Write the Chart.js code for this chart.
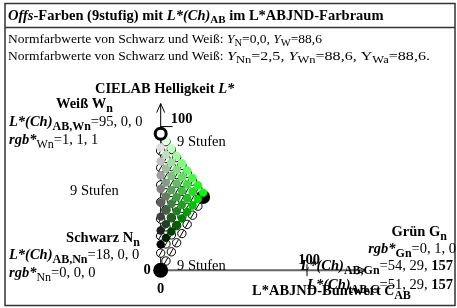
<!DOCTYPE html>
<html>
<head>
<meta charset="utf-8">
<script src="https://cdn.jsdelivr.net/npm/chart.js@4.4.0/dist/chart.umd.min.js"></script>
<style>
  html, body { margin: 0; padding: 0; background: #fff; }
</style>
</head>
<body>
<canvas id="chart" width="457" height="308"></canvas>
<script>
const ctx = document.getElementById("chart");

// chroma C*ab of the 9 columns (0 .. green)
const chromaSteps = [0, 3.6, 7.3, 10.9, 14.5, 18.1, 21.8, 25.4, 29];

// L* of the filled L*ABJND colours, one list per column
const lightJnd = [
  [18, 27.6, 37.3, 46.9, 56.5, 66.1, 75.8, 85.4, 95],
  [22.5, 32.1, 41.8, 51.4, 61, 70.6, 80.3, 89.9],
  [27, 36.6, 46.3, 55.9, 65.5, 75.1, 84.8],
  [31.5, 41.1, 50.8, 60.4, 70, 79.6],
  [36, 45.6, 55.3, 64.9, 74.5],
  [40.5, 50.1, 59.8, 69.4],
  [45, 54.6, 64.3],
  [49.5, 59.1],
  [54],
];

// L* of the open CIELAB circles, one list per column
const lightLab = [
  [0, 11.9, 23.8, 35.6, 47.5, 59.4, 71.3, 83.1, 95],
  [6.4, 18.3, 30.2, 42, 53.9, 65.8, 77.7, 89.5],
  [12.8, 24.6, 36.5, 48.4, 60.3, 72.1, 84],
  [19.1, 31, 42.9, 54.8, 66.6, 78.5],
  [25.5, 37.4, 49.3, 61.1, 73],
  [31.9, 43.8, 55.6, 67.5],
  [38.3, 50.1, 62],
  [44.6, 56.5],
  [51],
];

const whiteWn = [0, 95];
const blackOrigin = [0, 0];
const greenG = [29, 51];
const axisTicks = [0, 100];

// build points
const jndPoints = [];
const jndColors = [];
lightJnd.forEach((col, k) => {
  col.forEach((L, j) => {
    jndPoints.push({ x: chromaSteps[k], y: L });
    const a = j / 8, b = k / 8;
    const w = Math.round(255 * a), g = Math.round(255 * Math.min(1, a + b));
    jndColors.push(`rgb(${w}, ${g}, ${w})`);
  });
});
const labPoints = [];
lightLab.forEach((col, k) => {
  col.forEach((L) => labPoints.push({ x: chromaSteps[k], y: L }));
});

const SERIF = "'Liberation Serif', 'DejaVu Serif', serif";
const styles = {
  r: { font: `14.5px ${SERIF}`, dy: 0 },
  b: { font: `bold 14.5px ${SERIF}`, dy: 0 },
  i: { font: `italic 14.5px ${SERIF}`, dy: 0 },
  bi: { font: `italic bold 14.5px ${SERIF}`, dy: 0 },
  sb: { font: `bold 12px ${SERIF}`, dy: 4.5 },
  sr: { font: `12px ${SERIF}`, dy: 4.5 },
  nr: { font: `13.5px ${SERIF}`, dy: 0 },
  ni: { font: `italic 13.5px ${SERIF}`, dy: 0 },
  ns: { font: `10.5px ${SERIF}`, dy: 4 },
  T: { font: `bold 14.5px ${SERIF}`, dy: 0 },
  Ti: { font: `italic bold 14.5px ${SERIF}`, dy: 0 },
  Ts: { font: `bold 11px ${SERIF}`, dy: 4 },
};

// draw a line of mixed-font text; align "left" | "right" | "center"
// stretch: optional target width for the whole line; returns right end x
const rich = (c, x, y, parts, align = "left", stretch = 0) => {
  c.textBaseline = "middle";
  c.textAlign = "left";
  let total = 0;
  parts.forEach(([t, s]) => {
    c.font = styles[s].font;
    total += c.measureText(t).width;
  });
  const k = stretch ? stretch / total : 1;
  const w = total * k;
  const cx = align === "right" ? x - w : align === "center" ? x - w / 2 : x;
  c.save();
  c.translate(cx, 0);
  c.scale(k, 1);
  let px = 0;
  parts.forEach(([t, s]) => {
    c.font = styles[s].font;
    c.fillText(t, px, y + styles[s].dy);
    px += c.measureText(t).width;
  });
  c.restore();
  return cx + w;
};

const decor = {
  id: "decor",
  beforeDatasetsDraw(chart) {
    const c = chart.ctx;
    const xs = chart.scales.x, ys = chart.scales.y;
    const x0 = xs.getPixelForValue(axisTicks[0]);
    const y0 = ys.getPixelForValue(axisTicks[0]);
    const yTop = ys.getPixelForValue(116);
    const yT = ys.getPixelForValue(axisTicks[1]);
    const xEnd = xs.getPixelForValue(140);
    const xT = xs.getPixelForValue(axisTicks[1]);
    c.save();
    // vertical axis
    c.strokeStyle = "#000";
    c.lineWidth = 1;
    c.beginPath();
    c.moveTo(x0, y0);
    c.lineTo(x0, yTop);
    c.moveTo(x0 - 4, yTop + 9);
    c.lineTo(x0, yTop);
    c.lineTo(x0 + 4, yTop + 9);
    c.moveTo(x0, yT);
    c.lineTo(x0 + 12, yT);
    c.stroke();
    // horizontal axis
    c.strokeStyle = "#666";
    c.lineWidth = 2;
    c.beginPath();
    c.moveTo(x0, y0);
    c.lineTo(xEnd, y0);
    c.stroke();
    c.lineWidth = 1;
    c.strokeStyle = "#000";
    c.beginPath();
    c.moveTo(xEnd - 9, y0 - 4);
    c.lineTo(xEnd, y0);
    c.lineTo(xEnd - 9, y0 + 4);
    c.moveTo(xT, y0 - 6);
    c.lineTo(xT, y0 + 6);
    c.stroke();
    c.restore();
  },
  afterDraw(chart) {
    const c = chart.ctx;
    const xs = chart.scales.x, ys = chart.scales.y;
    const x0 = xs.getPixelForValue(0);
    const y0 = ys.getPixelForValue(0);
    c.save();
    // frame
    c.strokeStyle = "#333";
    c.lineWidth = 1.5;
    c.strokeRect(5, 3.5, 450, 302);
    c.beginPath();
    c.moveTo(5, 27.5);
    c.lineTo(455, 27.5);
    c.stroke();
    c.fillStyle = "#000";
    rich(c, 8, 16, [["Offs", "Ti"], ["-Farben (9stufig) mit ", "T"], ["L*(Ch)", "Ti"], ["AB", "Ts"], [" im L*ABJND-Farbraum", "T"]]);
    rich(c, 8, 39, [["Normfarbwerte von Schwarz und Weiß: ", "nr"], ["Y", "ni"], ["N", "ns"], ["=0,0, ", "nr"], ["Y", "ni"], ["W", "ns"], ["=88,6", "nr"]]);
    const headEnd = rich(c, 8, 56, [["Normfarbwerte von Schwarz und Weiß: ", "nr"]]);
    rich(c, headEnd, 56, [["Y", "ni"], ["Nn", "ns"], ["=2,5, ", "nr"], ["Y", "ni"], ["Wn", "ns"], ["=88,6, Y", "nr"], ["Wa", "ns"], ["=88,6.", "nr"]], "left", 430 - headEnd);

    rich(c, x0 + 4, 89, [["CIELAB Helligkeit ", "b"], ["L*", "bi"]], "center");
    rich(c, 113, 104, [["Weiß W", "b"], ["n", "sb"]], "right");
    rich(c, 9, 122, [["L*(Ch)", "bi"], ["AB,Wn", "sb"], ["=95, 0, 0", "r"]]);
    rich(c, 9, 140, [["rgb*", "bi"], ["Wn", "sr"], ["=1, 1, 1", "r"]]);
    rich(c, x0 + 10, ys.getPixelForValue(axisTicks[1]) - 7, [["100", "b"]]);
    rich(c, 177, 142, [["9 Stufen", "r"]]);
    rich(c, 70, 191, [["9 Stufen", "r"]]);
    rich(c, 177, 266, [["9 Stufen", "r"]]);

    rich(c, 140, 238, [["Schwarz N", "b"], ["n", "sb"]], "right");
    rich(c, 9, 255, [["L*(Ch)", "bi"], ["AB,Nn", "sb"], ["=18, 0, 0", "r"]]);
    rich(c, 9, 273, [["rgb*", "bi"], ["Nn", "sr"], ["=0, 0, 0", "r"]]);
    rich(c, x0 - 10, y0, [["0", "b"]], "right");
    rich(c, x0, y0 + 19, [["0", "b"]], "center");

    rich(c, 447, 232, [["Grün G", "b"], ["n", "sb"]], "right");
    rich(c, 456, 249, [["rgb*", "bi"], ["Gn", "sb"], ["=0, 1, 0", "r"]], "right");
    rich(c, xs.getPixelForValue(axisTicks[1]) + 2, y0 - 10, [["100", "b"]], "center");
    rich(c, 453, 266, [["L*(Ch)", "bi"], ["AB,Gn", "sb"], ["=54, 29, ", "r"], ["157", "b"]], "right");
    rich(c, 252, 291, [["L*ABJND-Buntwert ", "b"], ["C", "bi"], ["AB", "sb"]]);
    rich(c, 453, 285, [["L*(Ch)", "bi"], ["AB,G", "sb"], ["=51, 29, ", "r"], ["157", "b"]], "right");
    c.restore();
  },
};

new Chart(ctx, {
  type: "scatter",
  data: {
    datasets: [
      {
        label: "Weiß",
        data: [{ x: whiteWn[0], y: whiteWn[1] }],
        pointRadius: 5.5,
        backgroundColor: "#fff",
        borderColor: "#000",
        borderWidth: 3,
        order: 0,
      },
      {
        label: "Schwarz",
        data: [{ x: blackOrigin[0], y: blackOrigin[1] }],
        pointRadius: 7.5,
        backgroundColor: "#000",
        borderWidth: 0,
        order: 0,
      },
      {
        label: "L*ABJND",
        data: jndPoints,
        pointRadius: 4.2,
        backgroundColor: jndColors,
        borderWidth: 0,
        order: 1,
      },
      {
        label: "Grün",
        data: [{ x: greenG[0], y: greenG[1] }],
        pointRadius: 7,
        backgroundColor: "#000",
        borderWidth: 0,
        order: 2,
      },
      {
        label: "CIELAB slash",
        data: labPoints,
        pointStyle: "line",
        pointRotation: -60,
        pointRadius: 4,
        borderColor: "#000",
        borderWidth: 1,
        order: 3,
      },
      {
        label: "CIELAB",
        data: labPoints,
        pointRadius: 4.2,
        backgroundColor: "#fff",
        borderColor: "#000",
        borderWidth: 1,
        order: 4,
      },
    ],
  },
  options: {
    responsive: false,
    animation: false,
    layout: { padding: 0 },
    plugins: { legend: { display: false }, tooltip: { enabled: false } },
    scales: {
      x: { type: "linear", display: false, min: -104, max: 196.7 },
      y: { type: "linear", display: false, min: -20.4, max: 182.2 },
    },
  },
  plugins: [decor],
});
</script>
</body>
</html>
